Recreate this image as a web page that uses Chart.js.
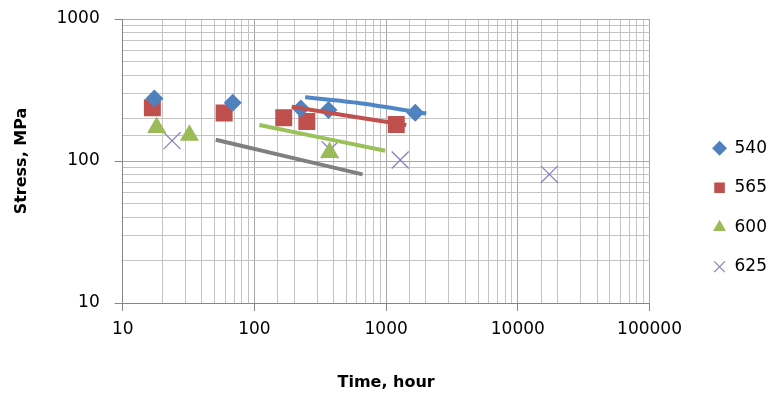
<!DOCTYPE html>
<html>
<head>
<meta charset="utf-8">
<script src="https://cdn.jsdelivr.net/npm/chart.js@4"></script>
<style>
html,body{margin:0;padding:0;background:#ffffff;}
#wrap{width:772px;height:394px;}
</style>
</head>
<body>
<div id="wrap"><canvas id="c" width="772" height="394"></canvas></div>
<script>
// ---- data ----
const seriesNames = ['540', '565', '600', '625'];

const time540   = [17.4, 68.5, 225, 365, 1664];
const stress540 = [275, 257, 234, 229, 219];

const time565   = [16.8, 58.9, 167, 250, 1194];
const stress565 = [237, 218, 202, 190, 181];

const time600   = [18.1, 32.1, 372];
const stress600 = [172, 152, 115];

const time625   = [23.7, 376, 1280, 17350];
const stress625 = [139, 120, 101.6, 80.6];

// trend lines (no legend entry)
const trendTime540   = [243, 635, 2018];
const trendStress540 = [281, 255, 216];
const trendTime565   = [192, 1422];
const trendStress565 = [241, 179];
const trendTime600   = [109, 984];
const trendStress600 = [179.5, 118];
const trendTime625   = [50.9, 662];
const trendStress625 = [141, 80.5];

const xMajorTicks = [10, 100, 1000, 10000, 100000];
const yMajorTicks = [10, 100, 1000];

const xTitle = 'Time, hour';
const yTitle = 'Stress, MPa';

// ---- build ----
const pts = (xs, ys) => xs.map((x, i) => ({x: x, y: ys[i]}));
const isMajor = (v, list) => list.some(t => Math.abs(t - v) / t < 1e-6);

const trend = (label, xs, ys, color) => ({
  label: label, type: 'scatter', data: pts(xs, ys), showLine: true,
  borderColor: color, backgroundColor: color, borderWidth: 4,
  pointRadius: 0, pointHoverRadius: 0, tension: 0.3
});

const datasets = [
  trend('trend540', trendTime540, trendStress540, '#4F86C6'),
  trend('trend565', trendTime565, trendStress565, '#C0504D'),
  trend('trend600', trendTime600, trendStress600, '#9BC15A'),
  trend('trend625', trendTime625, trendStress625, '#808080'),
  {label: seriesNames[0], data: pts(time540, stress540), pointStyle: 'rectRot', pointRadius: 9,
   backgroundColor: '#4F81BD', borderColor: '#4F81BD', borderWidth: 0, showLine: false},
  {label: seriesNames[1], data: pts(time565, stress565), pointStyle: 'rect', pointRadius: 12,
   backgroundColor: '#C0504D', borderColor: '#C0504D', borderWidth: 0, showLine: false},
  {label: seriesNames[2], data: pts(time600, stress600), pointStyle: 'triangle', pointRadius: 11,
   backgroundColor: '#9BBB59', borderColor: '#9BBB59', borderWidth: 0, showLine: false},
  {label: seriesNames[3], data: pts(time625, stress625), pointStyle: 'crossRot', pointRadius: 12,
   backgroundColor: '#8E7CC3', borderColor: '#8E7CC3', borderWidth: 1.2, showLine: false}
];

const legendShift = {
  id: 'legendShift',
  afterLayout(chart) {
    const l = chart.legend;
    if (!l) return;
    const dx = 41, dy = 1;
    l.left += dx; l.right += dx; l.top += dy; l.bottom += dy;
  }
};

const gridColor = (list) => (ctx) => (ctx.tick && isMajor(ctx.tick.value, list)) ? '#a8a8a8' : '#c4c4c4';
const tickColor = (list) => (ctx) => (ctx.tick && isMajor(ctx.tick.value, list)) ? '#868686' : 'rgba(0,0,0,0)';

new Chart(document.getElementById('c'), {
  type: 'scatter',
  data: {datasets: datasets},
  plugins: [legendShift],
  options: {
    responsive: false,
    animation: false,
    devicePixelRatio: 1,
    layout: {padding: {top: 19, right: 36, bottom: 0, left: 0}},
    plugins: {
      tooltip: {enabled: false},
      legend: {
        position: 'right',
        labels: {
          usePointStyle: true,
          boxWidth: 13,
          boxHeight: 10.6,
          padding: 22.5,
          color: '#000',
          font: {family: 'DejaVu Sans', size: 17},
          filter: (item) => seriesNames.includes(item.text)
        }
      }
    },
    scales: {
      x: {
        type: 'logarithmic', min: 10, max: 100000,
        afterFit: (s) => { s.height = 91; },
        border: {color: '#868686', width: 1},
        grid: {color: gridColor(xMajorTicks), tickColor: tickColor(xMajorTicks), tickLength: 8, lineWidth: 1},
        ticks: {
          autoSkip: false, maxRotation: 0, padding: 8, color: '#000',
          font: {family: 'DejaVu Sans', size: 17},
          callback: (v) => isMajor(v, xMajorTicks) ? String(v) : ''
        },
        title: {display: true, text: xTitle, color: '#000',
                font: {family: 'DejaVu Sans', size: 16, weight: 'bold'}, padding: {top: 0, bottom: 2}}
      },
      y: {
        type: 'logarithmic', min: 10, max: 1000,
        afterFit: (s) => { s.width = 122.7; s.paddingTop = 0; s.paddingBottom = 0; },
        border: {color: '#868686', width: 1},
        grid: {color: gridColor(yMajorTicks), tickColor: tickColor(yMajorTicks), tickLength: 8, lineWidth: 1},
        ticks: {
          autoSkip: false, padding: 15, color: '#000',
          font: {family: 'DejaVu Sans', size: 17},
          callback: (v) => isMajor(v, yMajorTicks) ? String(v) : ''
        },
        title: {display: true, text: yTitle, color: '#000',
                font: {family: 'DejaVu Sans', size: 16, weight: 'bold'}, padding: {top: 12, bottom: 0}}
      }
    }
  }
});
</script>
</body>
</html>
